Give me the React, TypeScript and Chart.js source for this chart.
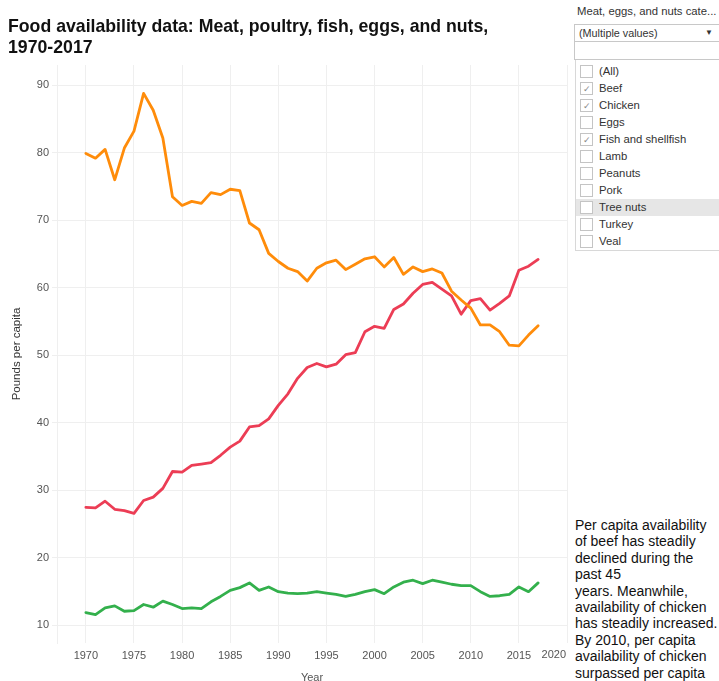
import React, { useEffect, useRef } from "react";
import { Chart, registerables } from "chart.js";

Chart.register(...registerables);

const years = [
  1970, 1971, 1972, 1973, 1974, 1975, 1976, 1977, 1978, 1979,
  1980, 1981, 1982, 1983, 1984, 1985, 1986, 1987, 1988, 1989,
  1990, 1991, 1992, 1993, 1994, 1995, 1996, 1997, 1998, 1999,
  2000, 2001, 2002, 2003, 2004, 2005, 2006, 2007, 2008, 2009,
  2010, 2011, 2012, 2013, 2014, 2015, 2016, 2017,
];

const beef = [
  79.9, 79.2, 80.5, 76.0, 80.7, 83.2, 88.8, 86.3, 82.2, 73.5,
  72.2, 72.8, 72.5, 74.1, 73.8, 74.6, 74.4, 69.6, 68.6, 65.1,
  63.9, 62.9, 62.4, 61.0, 62.9, 63.7, 64.1, 62.7, 63.5, 64.3,
  64.6, 63.1, 64.5, 62.0, 63.1, 62.4, 62.8, 62.2, 59.5, 58.2,
  57.0, 54.5, 54.5, 53.5, 51.5, 51.4, 53.0, 54.4,
];

const chicken = [
  27.5, 27.4, 28.4, 27.2, 27.0, 26.6, 28.5, 29.0, 30.3, 32.8,
  32.7, 33.7, 33.9, 34.1, 35.2, 36.4, 37.3, 39.4, 39.6, 40.6,
  42.6, 44.3, 46.6, 48.2, 48.8, 48.3, 48.7, 50.1, 50.4, 53.5,
  54.3, 54.0, 56.8, 57.6, 59.2, 60.5, 60.8, 59.8, 58.8, 56.1,
  58.1, 58.4, 56.7, 57.7, 58.8, 62.6, 63.2, 64.2,
];

const fish = [
  11.9, 11.6, 12.6, 12.9, 12.1, 12.2, 13.1, 12.7, 13.6, 13.1,
  12.5, 12.6, 12.5, 13.5, 14.3, 15.2, 15.6, 16.3, 15.2, 15.7,
  15.0, 14.8, 14.7, 14.8, 15.0, 14.8, 14.6, 14.3, 14.6, 15.0,
  15.3, 14.7, 15.7, 16.4, 16.7, 16.2, 16.7, 16.4, 16.1, 15.9,
  15.9, 15.0, 14.3, 14.4, 14.6, 15.7, 15.0, 16.3,
];

const seriesNames = ["Beef", "Chicken", "Fish and shellfish"];
const seriesColors = ["#ff8c0a", "#ec3d55", "#33b04c"];

const filterItems = [
  "(All)", "Beef", "Chicken", "Eggs", "Fish and shellfish", "Lamb",
  "Peanuts", "Pork", "Tree nuts", "Turkey", "Veal",
];
const checkedItems = ["Beef", "Chicken", "Fish and shellfish"];
const highlightedItem = "Tree nuts";

const titleLines = [
  "Food availability data: Meat, poultry, fish, eggs, and nuts,",
  "1970-2017",
];
const noteLines = [
  "Per capita availability",
  "of beef has steadily",
  "declined during the",
  "past 45",
  "years. Meanwhile,",
  "availability of chicken",
  "has steadily increased.",
  "By 2010, per capita",
  "availability of chicken",
  "surpassed per capita",
];

const X_MIN = 1967;
const X_MAX = 2020;
const Y_MIN = 7.4;
const Y_MAX = 93;

const FONT = "Arial, 'Liberation Sans', Helvetica, sans-serif";
const TICK_COLOR = "#555";
const GRID_COLOR = "#efefef";

export default function App() {
  const canvasRef = useRef<HTMLCanvasElement | null>(null);

  useEffect(() => {
    const canvas = canvasRef.current;
    if (!canvas) return;
    const datasets = [beef, chicken, fish].map((vals, i) => ({
      label: seriesNames[i],
      data: years.map((y, k) => ({ x: y, y: vals[k] })),
      borderColor: seriesColors[i],
      backgroundColor: seriesColors[i],
      borderWidth: 2.8,
      pointRadius: 0,
      tension: 0,
      borderJoinStyle: "round" as const,
      borderCapStyle: "round" as const,
    }));

    const lastTickPlugin = {
      id: "lastTickLabel",
      afterDraw(chart: any) {
        const s = chart.scales.x;
        const ctx = chart.ctx;
        ctx.save();
        ctx.font = `11px ${FONT}`;
        ctx.fillStyle = TICK_COLOR;
        ctx.textAlign = "right";
        ctx.textBaseline = "top";
        const label = String(X_MAX);
        const w = ctx.measureText(label).width;
        const x = Math.min(s.getPixelForValue(X_MAX) + w / 2, chart.chartArea.right - 1);
        ctx.fillText(label, x, s.top + 6);
        ctx.restore();
      },
    };

    const chart = new Chart(canvas, {
      type: "line",
      data: { datasets },
      plugins: [lastTickPlugin],
      options: {
        animation: false,
        responsive: false,
        devicePixelRatio: 1,
        layout: { padding: { top: 65, right: 5, left: 0, bottom: 0 } },
        plugins: {
          legend: { display: false },
          tooltip: { enabled: false },
          title: { display: false },
        },
        scales: {
          x: {
            type: "linear",
            min: X_MIN,
            max: X_MAX,
            afterFit: (s: any) => {
              s.height = 38;
            },
            ticks: {
              stepSize: 5,
              includeBounds: false,
              padding: 6,
              maxRotation: 0,
              autoSkip: false,
              color: TICK_COLOR,
              font: { family: FONT, size: 11 },
              callback: (v: any) => (Number(v) === X_MAX ? "" : String(v)),
            },
            grid: { color: GRID_COLOR, lineWidth: 1, drawTicks: false },
            border: { display: false },
            title: {
              display: true,
              text: "Year",
              color: TICK_COLOR,
              font: { family: FONT, size: 11 },
              padding: { top: 0, bottom: -4 },
            },
          },
          y: {
            type: "linear",
            min: Y_MIN,
            max: Y_MAX,
            afterFit: (s: any) => {
              s.width = 57;
            },
            ticks: {
              stepSize: 10,
              includeBounds: false,
              padding: 3,
              color: TICK_COLOR,
              font: { family: FONT, size: 11 },
            },
            grid: { color: GRID_COLOR, lineWidth: 1, tickLength: 5 },
            border: { display: true, color: GRID_COLOR },
            title: {
              display: true,
              text: "Pounds per capita",
              color: "#333",
              font: { family: FONT, size: 11.5 },
              padding: { top: 10, bottom: 0 },
            },
          },
        },
      },
    } as any);

    return () => chart.destroy();
  }, []);

  return (
    <div
      style={{
        position: "absolute",
        left: 0,
        top: 0,
        width: 719,
        height: 681,
        overflow: "hidden",
        background: "#fff",
        fontFamily: FONT,
      }}
    >
      <canvas
        ref={canvasRef}
        width={573}
        height={681}
        style={{ position: "absolute", left: 0, top: 0, width: 573, height: 681 }}
      />
      <div
        style={{
          position: "absolute",
          left: 8,
          top: 16,
          fontSize: 17.7,
          fontWeight: "bold",
          lineHeight: "21px",
          color: "#111",
          whiteSpace: "nowrap",
        }}
      >
        {titleLines.map((t, i) => (
          <div key={i}>{t}</div>
        ))}
      </div>

      {/* filter panel */}
      <div style={{ position: "absolute", left: 577, top: 5, fontSize: 11.3, color: "#333", whiteSpace: "nowrap" }}>
        Meat, eggs, and nuts cate...
      </div>
      <div
        style={{
          position: "absolute",
          left: 574,
          top: 24,
          width: 145,
          height: 18,
          borderTop: "1px solid #c8c8c8",
          borderLeft: "1px solid #c8c8c8",
          borderBottom: "1px solid #c8c8c8",
          boxSizing: "border-box",
          fontSize: 10.8,
          color: "#333",
          lineHeight: "16px",
          paddingLeft: 4,
          background: "#fff",
        }}
      >
        (Multiple values)
        <span style={{ position: "absolute", left: 130, top: 0, fontSize: 8 }}>▼</span>
      </div>
      <div
        style={{
          position: "absolute",
          left: 574,
          top: 42,
          width: 145,
          height: 18,
          borderLeft: "1px solid #c8c8c8",
          borderBottom: "1px solid #c8c8c8",
          boxSizing: "border-box",
          background: "#fff",
        }}
      />
      <div
        style={{
          position: "absolute",
          left: 575,
          top: 60,
          width: 144,
          height: 191,
          borderLeft: "1px solid #d8d8d8",
          borderBottom: "1px solid #d8d8d8",
          boxSizing: "border-box",
          background: "#fff",
        }}
      >
        {filterItems.map((name, i) => (
          <div
            key={name}
            style={{
              position: "absolute",
              left: 0,
              top: 3 + i * 17,
              width: 143,
              height: 17,
              background: name === highlightedItem ? "#e6e6e6" : "transparent",
            }}
          >
            <div
              style={{
                position: "absolute",
                left: 4,
                top: 2,
                width: 13,
                height: 13,
                border: "1px solid #c4c4c4",
                background: "#fff",
                boxSizing: "border-box",
                fontSize: 9,
                color: "#888",
                lineHeight: "12px",
                textAlign: "center",
              }}
            >
              {checkedItems.includes(name) ? "✓" : ""}
            </div>
            <div
              style={{
                position: "absolute",
                left: 23,
                top: 0,
                lineHeight: "17px",
                fontSize: 11.3,
                color: "#333",
                whiteSpace: "nowrap",
              }}
            >
              {name}
            </div>
          </div>
        ))}
      </div>

      {/* annotation */}
      <div
        style={{
          position: "absolute",
          left: 575,
          top: 517,
          width: 144,
          fontSize: 14,
          lineHeight: "16.4px",
          color: "#111",
          background: "#fff",
          whiteSpace: "nowrap",
        }}
      >
        {noteLines.map((t, i) => (
          <div key={i}>{t}</div>
        ))}
      </div>
    </div>
  );
}
